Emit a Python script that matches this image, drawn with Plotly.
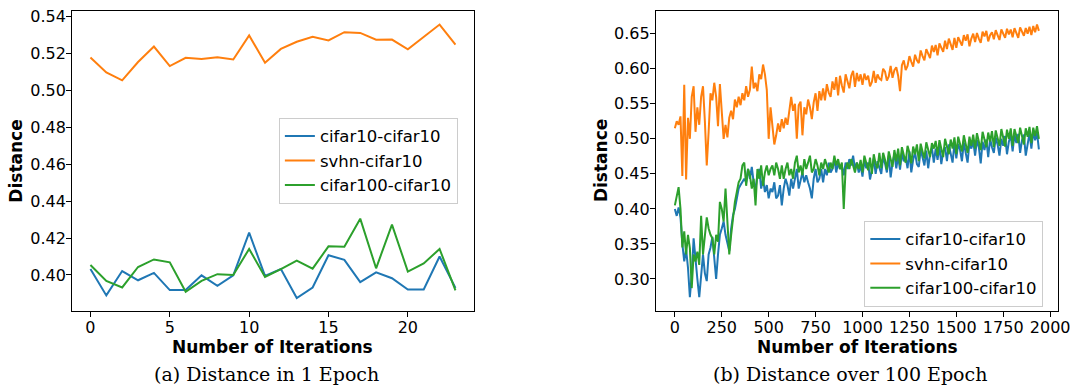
import plotly.graph_objects as go

# ---------------- (a) Distance in 1 Epoch ----------------
iters_a = list(range(24))
cifar10_a = [0.4032, 0.3889, 0.4021, 0.3971, 0.4011, 0.3918, 0.3918, 0.3998, 0.3941, 0.3998,
             0.4229, 0.3995, 0.4032, 0.3875, 0.3932, 0.4107, 0.4082, 0.3961, 0.4014, 0.3982,
             0.3921, 0.3921, 0.4100, 0.3930]
svhn_a = [0.5179, 0.5098, 0.5055, 0.5154, 0.5238, 0.5132, 0.5177, 0.5171, 0.5180, 0.5168,
          0.5298, 0.5150, 0.5225, 0.5264, 0.5291, 0.5271, 0.5316, 0.5312, 0.5275, 0.5276,
          0.5223, 0.5289, 0.5357, 0.5248]
cifar100_a = [0.4054, 0.3968, 0.3932, 0.4043, 0.4084, 0.4068, 0.3909, 0.3968, 0.4004, 0.4000,
              0.4141, 0.3989, 0.4032, 0.4078, 0.4034, 0.4155, 0.4153, 0.4305, 0.4036, 0.4273,
              0.4018, 0.4062, 0.4141, 0.3916]

# ---------------- (b) Distance over 100 Epoch (read every 10 iterations) ----------------
iters_b = list(range(0, 1950, 10))
svhn_b = [
    0.515, 0.525, 0.520, 0.532, 0.447, 0.577, 0.442, 0.530, 0.500, 0.560,
    0.575, 0.510, 0.545, 0.520, 0.560, 0.575, 0.525, 0.462, 0.510, 0.565,
    0.555, 0.580, 0.560, 0.518, 0.578, 0.545, 0.500, 0.520, 0.502, 0.530,
    0.540, 0.528, 0.556, 0.545, 0.560, 0.548, 0.565, 0.555, 0.575, 0.560,
    0.570, 0.603, 0.572, 0.580, 0.568, 0.592, 0.585, 0.606, 0.592, 0.570,
    0.500, 0.545, 0.520, 0.492, 0.505, 0.522, 0.510, 0.528, 0.515, 0.530,
    0.520, 0.545, 0.560, 0.540, 0.550, 0.500, 0.548, 0.553, 0.505, 0.545,
    0.535, 0.556, 0.545, 0.528, 0.552, 0.565, 0.540, 0.568, 0.555, 0.572,
    0.555, 0.578, 0.566, 0.560, 0.582, 0.570, 0.588, 0.562, 0.590, 0.576,
    0.566, 0.592, 0.580, 0.572, 0.590, 0.597, 0.574, 0.594, 0.582, 0.592,
    0.577, 0.593, 0.584, 0.590, 0.575, 0.581, 0.597, 0.580, 0.592, 0.586,
    0.584, 0.600, 0.596, 0.583, 0.589, 0.604, 0.587, 0.598, 0.602, 0.590,
    0.568, 0.605, 0.612, 0.598, 0.604, 0.618, 0.610, 0.603, 0.620, 0.612,
    0.608, 0.626, 0.618, 0.612, 0.628, 0.620, 0.615, 0.633, 0.624, 0.634,
    0.619, 0.636, 0.630, 0.624, 0.640, 0.628, 0.643, 0.636, 0.627, 0.644,
    0.630, 0.645, 0.638, 0.633, 0.648, 0.640, 0.649, 0.632, 0.643, 0.650,
    0.638, 0.651, 0.643, 0.637, 0.653, 0.646, 0.654, 0.639, 0.648, 0.652,
    0.642, 0.655, 0.648, 0.641, 0.656, 0.650, 0.644, 0.657, 0.649, 0.656,
    0.645, 0.658, 0.651, 0.644, 0.659, 0.653, 0.647, 0.658, 0.650, 0.660,
    0.648, 0.661, 0.652, 0.663, 0.654,
]
cifar10_b = [
    0.400, 0.390, 0.402, 0.388, 0.350, 0.325, 0.342, 0.316, 0.274, 0.306,
    0.358, 0.325, 0.300, 0.274, 0.305, 0.335, 0.308, 0.297, 0.335, 0.345,
    0.360, 0.326, 0.300, 0.335, 0.363, 0.372, 0.382, 0.363, 0.353, 0.340,
    0.372, 0.391, 0.400, 0.414, 0.429, 0.434, 0.438, 0.443, 0.438, 0.457,
    0.443, 0.460, 0.438, 0.429, 0.448, 0.457, 0.429, 0.443, 0.424, 0.434,
    0.415, 0.429, 0.424, 0.438, 0.415, 0.419, 0.434, 0.405, 0.429, 0.443,
    0.434, 0.419, 0.443, 0.429, 0.443, 0.457, 0.429, 0.443, 0.452, 0.438,
    0.448, 0.438, 0.429, 0.415, 0.443, 0.457, 0.438, 0.443, 0.457, 0.438,
    0.457, 0.448, 0.466, 0.452, 0.457, 0.471, 0.452, 0.466, 0.457, 0.462,
    0.448, 0.466, 0.457, 0.471, 0.462, 0.476, 0.457, 0.466, 0.452, 0.462,
    0.446, 0.470, 0.458, 0.466, 0.442, 0.455, 0.472, 0.450, 0.468, 0.459,
    0.450, 0.474, 0.465, 0.452, 0.476, 0.445, 0.466, 0.478, 0.458, 0.475,
    0.456, 0.480, 0.468, 0.474, 0.458, 0.482, 0.452, 0.470, 0.481, 0.464,
    0.460, 0.485, 0.474, 0.462, 0.483, 0.458, 0.478, 0.487, 0.466, 0.486,
    0.470, 0.490, 0.464, 0.482, 0.488, 0.468, 0.492, 0.476, 0.466, 0.494,
    0.472, 0.493, 0.484, 0.468, 0.495, 0.480, 0.466, 0.494, 0.486, 0.497,
    0.476, 0.498, 0.488, 0.465, 0.496, 0.484, 0.499, 0.474, 0.500, 0.488,
    0.480, 0.502, 0.492, 0.476, 0.500, 0.490, 0.504, 0.478, 0.496, 0.505,
    0.482, 0.506, 0.494, 0.507, 0.480, 0.498, 0.506, 0.476, 0.495, 0.508,
    0.486, 0.510, 0.498, 0.509, 0.485,
]
cifar100_b = [
    0.405, 0.420, 0.431, 0.400, 0.345, 0.368, 0.335, 0.363, 0.344, 0.287,
    0.335, 0.325, 0.339, 0.320, 0.390, 0.335, 0.363, 0.388, 0.372, 0.363,
    0.358, 0.335, 0.363, 0.353, 0.410, 0.400, 0.382, 0.429, 0.382, 0.335,
    0.363, 0.391, 0.410, 0.424, 0.438, 0.443, 0.462, 0.466, 0.433, 0.457,
    0.448, 0.429, 0.443, 0.405, 0.457, 0.443, 0.462, 0.433, 0.452, 0.462,
    0.448, 0.457, 0.462, 0.448, 0.466, 0.457, 0.443, 0.462, 0.443, 0.457,
    0.466, 0.448, 0.457, 0.443, 0.466, 0.476, 0.452, 0.462, 0.448, 0.471,
    0.457, 0.466, 0.476, 0.452, 0.457, 0.471, 0.462, 0.448, 0.466, 0.457,
    0.471, 0.462, 0.452, 0.466, 0.457, 0.476, 0.462, 0.471, 0.457, 0.466,
    0.400, 0.457, 0.466, 0.457, 0.471, 0.462, 0.452, 0.466, 0.457, 0.470,
    0.452, 0.476, 0.466, 0.455, 0.473, 0.450, 0.478, 0.464, 0.458, 0.480,
    0.458, 0.480, 0.470, 0.456, 0.482, 0.472, 0.460, 0.484, 0.468, 0.486,
    0.462, 0.488, 0.476, 0.466, 0.490, 0.480, 0.465, 0.489, 0.478, 0.492,
    0.468, 0.493, 0.482, 0.472, 0.495, 0.484, 0.474, 0.494, 0.486, 0.497,
    0.476, 0.498, 0.488, 0.474, 0.500, 0.490, 0.478, 0.499, 0.486, 0.502,
    0.478, 0.503, 0.492, 0.482, 0.505, 0.494, 0.480, 0.503, 0.490, 0.506,
    0.486, 0.508, 0.496, 0.484, 0.510, 0.498, 0.488, 0.509, 0.496, 0.511,
    0.488, 0.512, 0.500, 0.490, 0.514, 0.502, 0.489, 0.513, 0.500, 0.515,
    0.490, 0.514, 0.502, 0.494, 0.516, 0.504, 0.492, 0.515, 0.503, 0.517,
    0.494, 0.516, 0.504, 0.518, 0.500,
]

series_names = ["cifar10-cifar10", "svhn-cifar10", "cifar100-cifar10"]
colors = ["#1f77b4", "#ff7f0e", "#2ca02c"]

W, H = 1084, 385
FONT = "DejaVu Sans"

fig = go.Figure()
for name, ys, col in zip(series_names, [cifar10_a, svhn_a, cifar100_a], colors):
    fig.add_trace(go.Scatter(x=iters_a, y=ys, mode="lines", name=name,
                             line=dict(color=col, width=2), xaxis="x", yaxis="y",
                             legend="legend", legendgroup="a" + name))
for name, ys, col in zip(series_names, [cifar10_b, svhn_b, cifar100_b], colors):
    fig.add_trace(go.Scatter(x=iters_b, y=ys, mode="lines", name=name,
                             line=dict(color=col, width=2), xaxis="x2", yaxis="y2",
                             legend="legend2", legendgroup="b" + name))

def px_x(p):
    return p / W

def px_y(p):
    return 1 - p / H

ydom = [px_y(310.5), px_y(7)]
axis_common = dict(showline=True, mirror=True, linecolor="black", linewidth=1.3,
                   ticks="outside", ticklen=5, tickwidth=1.3, tickcolor="black",
                   showgrid=False, zeroline=False,
                   tickfont=dict(family=FONT, size=16, color="black"))

legend_common = dict(xanchor="left", yanchor="top",
                     bgcolor="rgba(255,255,255,0.8)", bordercolor="#cccccc", borderwidth=1,
                     font=dict(family=FONT, size=16.5, color="black"), tracegroupgap=0)

fig.update_layout(
    width=W, height=H,
    margin=dict(l=0, r=0, t=0, b=0),
    paper_bgcolor="white", plot_bgcolor="white",
    xaxis=dict(domain=[px_x(73), px_x(479)], range=[-1.15, 24.15],
               tickvals=[0, 5, 10, 15, 20], anchor="y", ticklabelstandoff=-4, **axis_common),
    yaxis=dict(domain=ydom, range=[0.3803, 0.5431], tickvals=[0.40, 0.42, 0.44, 0.46, 0.48, 0.50, 0.52, 0.54],
               tickformat=".2f", anchor="x", ticklabelstandoff=-3, **axis_common),
    xaxis2=dict(domain=[px_x(663.3), px_x(1070)], range=[-100.7, 2042.7],
                tickvals=[0, 250, 500, 750, 1000, 1250, 1500, 1750, 2000], anchor="y2",
                ticklabelstandoff=-4, **axis_common),
    yaxis2=dict(domain=ydom, range=[0.2539, 0.6825], tickvals=[0.30, 0.35, 0.40, 0.45, 0.50, 0.55, 0.60, 0.65],
                tickformat=".2f", anchor="x2", ticklabelstandoff=-3, **axis_common),
    legend=dict(x=px_x(282), y=px_y(115), **legend_common),
    legend2=dict(x=px_x(874), y=px_y(219), **legend_common),
    showlegend=True,
)

ann = []
title_font = dict(family=FONT, size=17, color="black")
for xc in (276, 866.6):
    ann.append(dict(text="<b>Number of Iterations</b>", x=px_x(xc), y=px_y(347),
                    xref="paper", yref="paper", showarrow=False, font=title_font,
                    xanchor="center", yanchor="middle"))
for xc in (16, 608):
    ann.append(dict(text="<b>Distance</b>", x=px_x(xc), y=px_y(158.5), textangle=-90,
                    xref="paper", yref="paper", showarrow=False, font=title_font,
                    xanchor="center", yanchor="middle"))
cap_font = dict(family="DejaVu Serif", size=19, color="black")
ann.append(dict(text="(a) Distance in 1 Epoch", x=px_x(269), y=px_y(374),
                xref="paper", yref="paper", showarrow=False, font=cap_font,
                xanchor="center", yanchor="middle"))
ann.append(dict(text="(b) Distance over 100 Epoch", x=px_x(860), y=px_y(374),
                xref="paper", yref="paper", showarrow=False, font=cap_font,
                xanchor="center", yanchor="middle"))
fig.update_layout(annotations=ann)

# remove the default 8px page margin so the figure sits at the window's corner
fig.write_html("out.html", config={"displayModeBar": False},
               post_script="document.body.style.margin='0px';")
